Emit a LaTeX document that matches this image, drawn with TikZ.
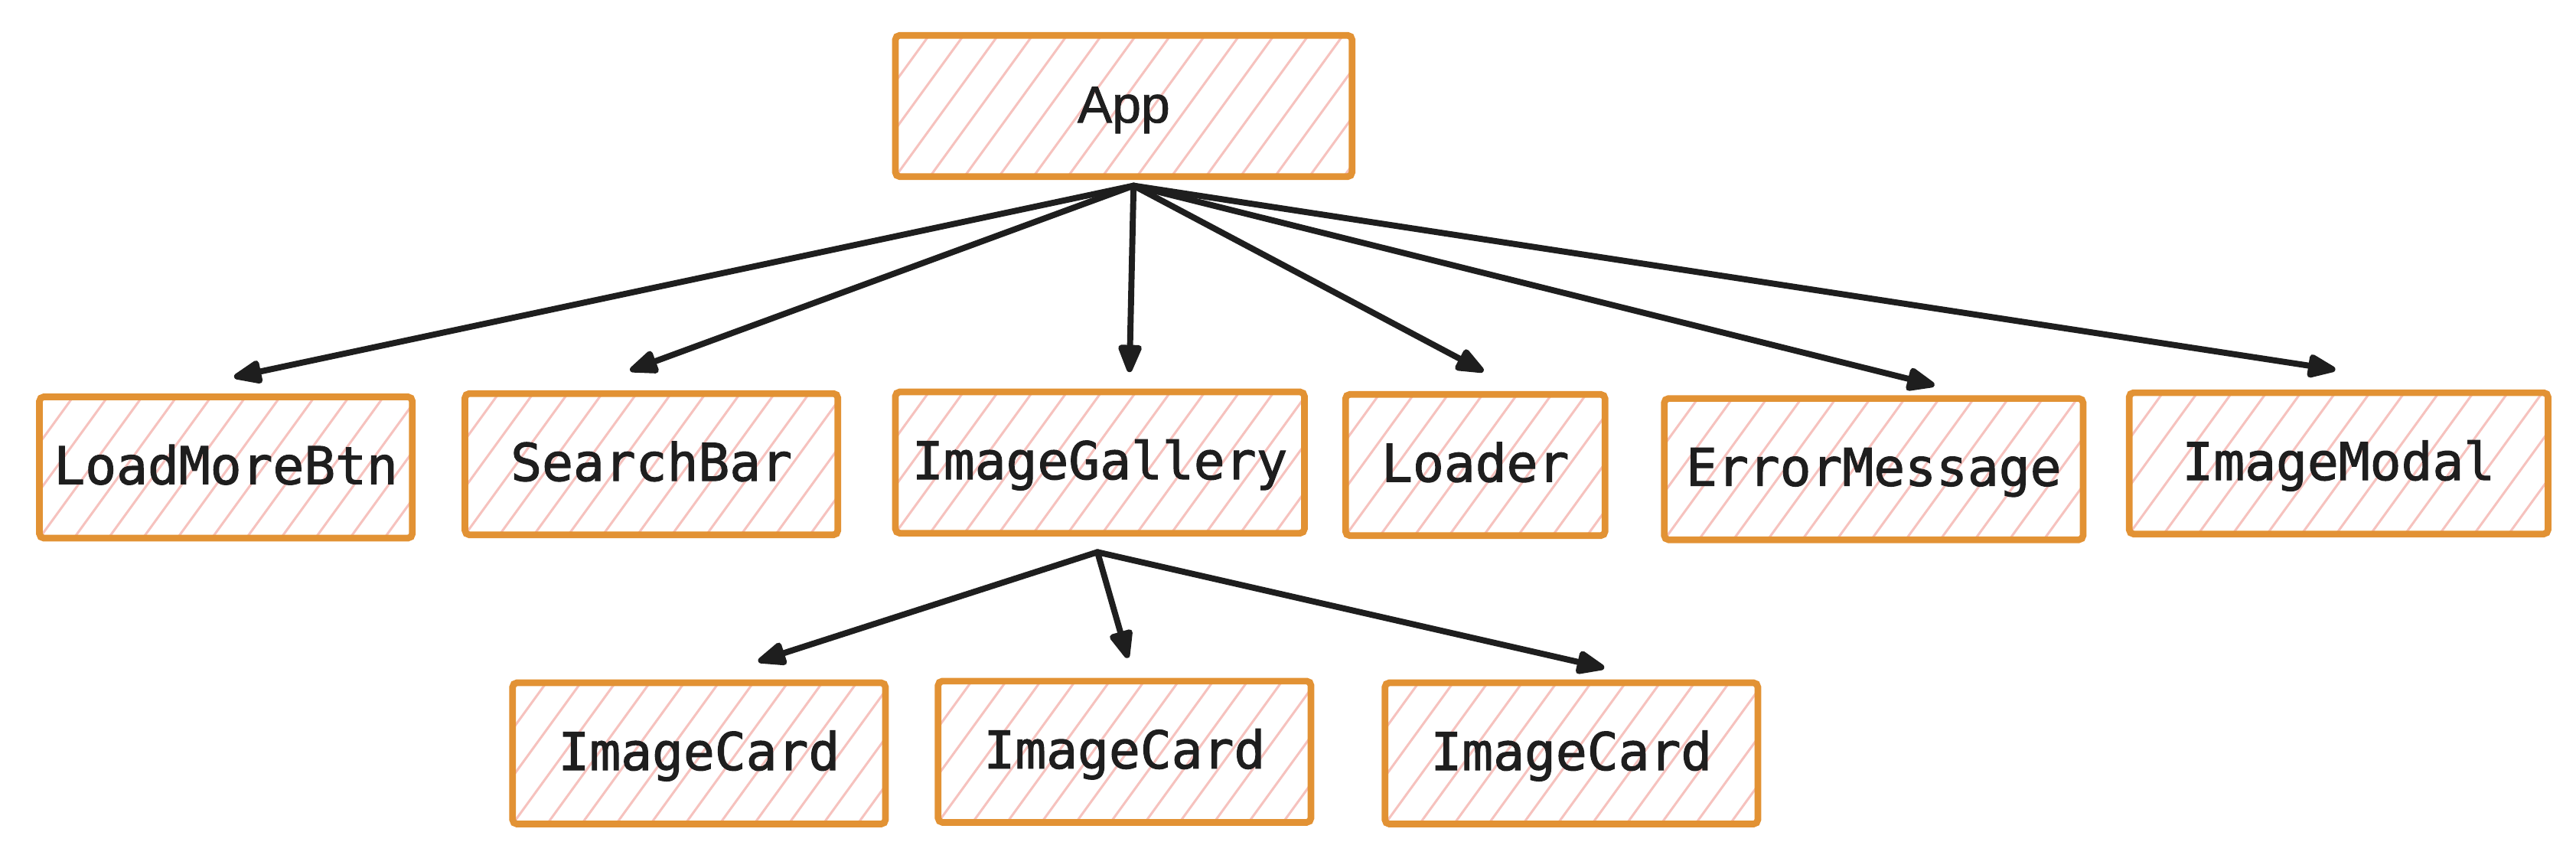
\documentclass[tikz,border=0pt]{standalone}
\usepackage{fontspec}
\newfontfamily\compfont{DejaVu Sans Mono}[FakeBold=1.6]
\newfontfamily\appfont{Liberation Sans}[FakeBold=1.2]
\usetikzlibrary{arrows.meta,calc}
\definecolor{boxline}{RGB}{226,146,52}
\definecolor{hatchc}{RGB}{246,194,190}
\definecolor{arrc}{RGB}{30,30,30}

\begin{document}
\begin{tikzpicture}[
  x=0.02cm,y=-0.02cm,
  font=\compfont\fontsize{18}{22}\selectfont,
  comp/.style={draw=boxline,line width=2.3pt,rounded corners=1.5pt,
               fill=white,minimum height=1.72cm,inner sep=0pt,text=arrc,
               text height=1.15em,text depth=0pt,
               path picture={
                 \foreach \k in {-12,...,14}
                   \draw[hatchc,line width=0.8pt]
                     ([xshift=\k*0.42cm]path picture bounding box.south west)
                     -- ++(54:3cm);
               }},
  arr/.style={-{Triangle[length=4mm,width=3mm,round]},arrc,
              line width=2.1pt,line cap=round,line join=round}
]
\useasboundingbox (0,0) rectangle (1568,528);
% top
\node[comp,minimum width=5.56cm,font=\appfont\fontsize{18}{22}\selectfont] (app) at (684,64.5) {App};
% children of App
\node[comp,minimum width=4.54cm] (lmb) at (137.5,284.5) {LoadMoreBtn};
\node[comp,minimum width=4.54cm] (sbar) at (396.5,282.5) {SearchBar};
\node[comp,minimum width=4.98cm] (gal) at (669.5,281.5) {ImageGallery};
\node[comp,minimum width=3.16cm] (ldr) at (898,283) {Loader};
\node[comp,minimum width=5.10cm] (err) at (1140.5,285.5) {ErrorMessage};
\node[comp,minimum width=5.10cm] (modal) at (1423.5,282) {ImageModal};
% cards
\node[comp,minimum width=4.54cm] (card1) at (425.5,458.5) {ImageCard};
\node[comp,minimum width=4.54cm] (card2) at (684.5,457.5) {ImageCard};
\node[comp,minimum width=4.54cm] (card3) at (956.5,458.5) {ImageCard};
\coordinate (appout) at (690,113);
\coordinate (galout) at (668,336);
\draw[arr] (appout) -- ([shift={(5,-10)}]lmb.north);
\draw[arr] (appout) -- ([shift={(-13,-12)}]sbar.north);
\draw[arr] (appout) -- ([shift={(18,-10)}]gal.north);
\draw[arr] (appout) -- ([shift={(5,-12)}]ldr.north);
\draw[arr] (appout) -- ([shift={(37,-6)}]err.north);
\draw[arr] (appout) -- ([shift={(-2,-12)}]modal.north);
\draw[arr] (galout) -- ([shift={(36,-11)}]card1.north);
\draw[arr] (galout) -- ([shift={(2,-12)}]card2.north);
\draw[arr] (galout) -- ([shift={(20,-7)}]card3.north);
\end{tikzpicture}
\end{document}
